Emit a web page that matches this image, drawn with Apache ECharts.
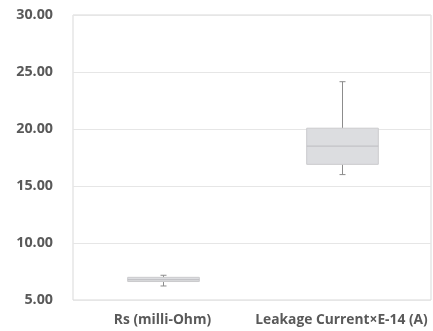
<!DOCTYPE html>
<html><head><meta charset="utf-8">
<script src="https://cdn.jsdelivr.net/npm/echarts@6/dist/echarts.min.js"></script>
<style>html,body{margin:0;padding:0;background:#fff}#c{width:433px;height:331px}</style>
</head><body><div id="c"></div>
<script>
var categories = ['Rs (milli-Ohm)', 'Leakage Current×E-14 (A)'];
// [low, q1, median, q3, high]
var boxStats = [
  [6.23, 6.62, 6.78, 6.99, 7.17],
  [16.0, 16.9, 18.5, 20.07, 24.15]
];
var yTicks = [5, 10, 15, 20, 25, 30];

var data = boxStats.map(function (s, i) { return [i].concat(s); });
var chart = echarts.init(document.getElementById('c'));
chart.setOption({
  animation: false,
  grid: { left: 73, right: 2, top: 15, bottom: 31, show: true, borderColor: '#d9d9d9', borderWidth: 1 },
  xAxis: {
    type: 'category', data: categories,
    axisLine: { show: false }, axisTick: { show: false },
    axisLabel: { color: '#595959', fontFamily: 'Open Sans', fontWeight: 'bold', fontSize: 13.8, margin: 13, interval: 0 }
  },
  yAxis: {
    type: 'value', min: 5, max: 30, interval: 5,
    axisLine: { show: false }, axisTick: { show: false },
    splitLine: { lineStyle: { color: '#e6e6e6' } },
    axisLabel: { color: '#595959', fontFamily: 'Open Sans', fontWeight: 'bold', fontSize: 14.3, margin: 20,
      formatter: function (v) { return v.toFixed(2); } }
  },
  series: [{
    type: 'custom',
    data: data,
    encode: { x: 0, y: [1, 2, 3, 4, 5] },
    renderItem: function (params, api) {
      var x = api.value(0);
      var bw = api.size([1, 0])[0] * 0.4;
      var lo = api.coord([x, api.value(1)]);
      var q1 = api.coord([x, api.value(2)]);
      var md = api.coord([x, api.value(3)]);
      var q3 = api.coord([x, api.value(4)]);
      var hi = api.coord([x, api.value(5)]);
      var cx = Math.round(lo[0]) + 0.5;
      var cap = 3;
      var wStyle = { stroke: '#8c8c8c', lineWidth: 1 };
      return {
        type: 'group',
        children: [
          { type: 'line', shape: { x1: cx, y1: hi[1], x2: cx, y2: q3[1] }, style: wStyle },
          { type: 'line', shape: { x1: cx, y1: q1[1], x2: cx, y2: lo[1] }, style: wStyle },
          { type: 'line', shape: { x1: cx - cap, y1: hi[1], x2: cx + cap, y2: hi[1] }, style: wStyle },
          { type: 'line', shape: { x1: cx - cap, y1: lo[1], x2: cx + cap, y2: lo[1] }, style: wStyle },
          { type: 'rect', shape: { x: cx - bw / 2, y: q3[1], width: bw, height: q1[1] - q3[1] },
            style: { fill: '#dcdde0', stroke: '#cbcbcd', lineWidth: 1 } },
          { type: 'line', shape: { x1: cx - bw / 2, y1: md[1], x2: cx + bw / 2, y2: md[1] },
            style: { stroke: '#bdbdc0', lineWidth: 1 } }
        ]
      };
    }
  }]
});
</script></body></html>
